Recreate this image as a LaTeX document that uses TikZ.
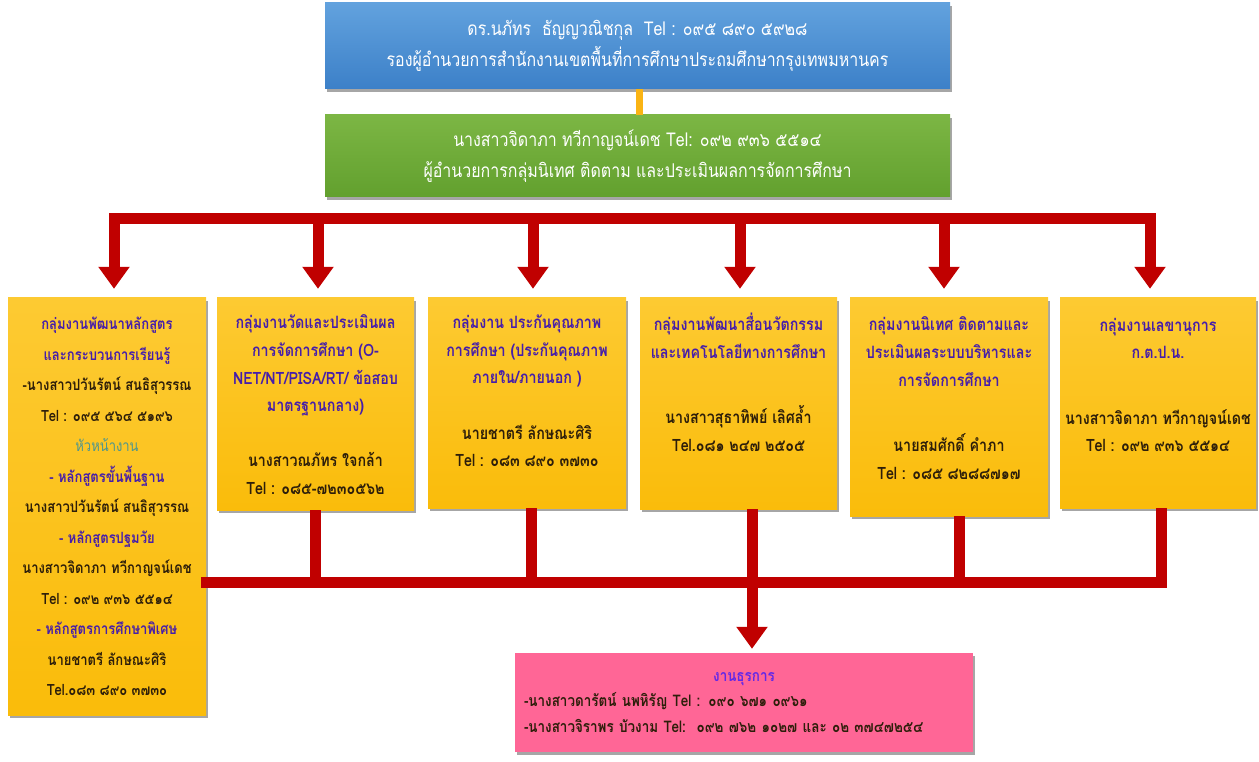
\documentclass[tikz,border=0pt]{standalone}
\usepackage{fontspec}
\setmainfont[Script=Thai,FakeStretch=0.84]{Loma}
\usetikzlibrary{arrows.meta,shadows}
\definecolor{redc}{RGB}{192,0,0}
\definecolor{ylw}{RGB}{250,188,10}
\definecolor{ylwtop}{RGB}{253,202,50}
\definecolor{bluetop}{RGB}{98,162,222}
\definecolor{bluebot}{RGB}{60,128,200}
\definecolor{greentop}{RGB}{124,182,68}
\definecolor{greenbot}{RGB}{98,160,46}
\definecolor{pinkc}{RGB}{255,102,150}
\definecolor{orangec}{RGB}{250,180,20}
\definecolor{hd}{RGB}{70,30,170}
\definecolor{nm}{RGB}{45,30,10}
\definecolor{tl}{RGB}{80,150,140}
\definecolor{hdp}{RGB}{100,40,230}
\begin{document}
\begin{tikzpicture}[x=1pt,y=-1pt,
  boxshadow/.style={drop shadow={shadow xshift=2pt,shadow yshift=-3pt,opacity=0.35,fill=black}},
  topbox/.style={boxshadow,draw=none,minimum width=625pt,minimum height=86pt,inner sep=0pt,
    text=white,align=center,font=\fontsize{19}{31}\selectfont},
  yellowbox/.style={boxshadow,draw=none,top color=ylwtop,bottom color=ylw,inner sep=0pt},
  boxtext/.style={inner sep=0pt,align=center,text=nm,font=\bfseries\fontsize{17}{27.6}\selectfont},
  redline/.style={draw=redc,line width=11pt},
  redarrow/.style={draw=redc,line width=11pt,-{Triangle[width=30pt,length=22pt]}},
]
\useasboundingbox (0,0) rectangle (1259,762);

\coordinate (busL) at (114,219);
\coordinate (busR) at (1150,219);
\coordinate (busB) at (206,582);
\coordinate (busBR) at (1161,582);

% top boxes
\node[topbox,top color=bluetop,bottom color=bluebot] (dir) at (637.5,46)
  {ดร.นภัทร\ \ ธัญญวณิชกุล\ \ Tel : ๐๙๕ ๘๙๐ ๕๙๒๘\\
   รองผู้อำนวยการสำนักงานเขตพื้นที่การศึกษาประถมศึกษากรุงเทพมหานคร};
\node[topbox,top color=greentop,bottom color=greenbot,minimum height=82pt] (head) at (637.5,156)
  {นางสาวจิดาภา ทวีกาญจน์เดช Tel: ๐๙๒ ๙๓๖ ๕๕๑๔\\
   ผู้อำนวยการกลุ่มนิเทศ ติดตาม และประเมินผลการจัดการศึกษา};
\draw[draw=orangec,line width=7pt] (dir.south -| 639,0) -- (head.north -| 639,0);

% yellow boxes
\node[yellowbox,minimum width=198pt,minimum height=417pt] (b1) at (107,506.5) {};
\node[yellowbox,minimum width=197pt,minimum height=212pt] (b2) at (315.5,404) {};
\node[yellowbox,minimum width=198pt,minimum height=210pt] (b3) at (527,403) {};
\node[yellowbox,minimum width=197pt,minimum height=211pt] (b4) at (738.5,403.5) {};
\node[yellowbox,minimum width=198pt,minimum height=218pt] (b5) at (949,407) {};
\node[yellowbox,minimum width=196pt,minimum height=210pt] (b6) at (1158,403) {};

% pink box
\node[boxshadow,draw=none,fill=pinkc,minimum width=458pt,minimum height=99pt,inner sep=0pt,
  text width=440pt,align=left,text=nm,font=\bfseries\fontsize{16}{25.5}\selectfont] (adm) at (744,702.5)
  {\makebox[\linewidth][c]{\textcolor{hdp}{งานธุรการ}}\\
   -นางสาวดารัตน์ นพหิรัญ Tel : ๐๙๐ ๖๗๑ ๐๙๖๑\\
   -นางสาวจิราพร บัวงาม Tel:\ \ ๐๙๒ ๗๖๒ ๑๐๒๗ และ ๐๒ ๓๗๔๗๒๕๔};

% red bus on top
\draw[redline,line cap=rect] (busL) -- (busR);
\foreach \xx/\bb in {114/b1,318/b2,533/b3,740/b4,944/b5,1150/b6}{
  \draw[redarrow,shorten >=9pt] (\xx,0 |- busL) -- (\xx,0 |- \bb.north);
}
% bottom bus
\foreach \xx/\bb in {315/b2,531/b3,752/b4,959/b5,1161/b6}{
  \draw[redline] (\xx,0 |- \bb.south) -- (\xx,0 |- busB);
}
\draw[redline,line cap=rect] (busB) -- (busBR);
\draw[redarrow,shorten >=4pt] (752,0 |- busB) -- (752,0 |- adm.north);

% texts in yellow boxes
\node[boxtext,font=\bfseries\fontsize{15.5}{30.5}\selectfont] (t1) at (b1.center)
  {\textcolor{hd}{กลุ่มงานพัฒนาหลักสูตร}\\
   \textcolor{hd}{และกระบวนการเรียนรู้}\\
   -นางสาวปวันรัตน์ สนธิสุวรรณ\\
   Tel : ๐๙๕ ๕๖๔ ๕๑๙๖\\
   \textcolor{tl}{\mdseries หัวหน้างาน}\\
   \textcolor{hd}{- หลักสูตรขั้นพื้นฐาน}\\
   นางสาวปวันรัตน์ สนธิสุวรรณ\\
   \textcolor{hd}{- หลักสูตรปฐมวัย}\\
   นางสาวจิดาภา ทวีกาญจน์เดช\\
   Tel : ๐๙๒ ๙๓๖ ๕๕๑๔\\
   \textcolor{hd}{- หลักสูตรการศึกษาพิเศษ}\\
   นายชาตรี ลักษณะศิริ\\
   Tel.๐๘๓ ๘๙๐ ๓๗๓๐};
\node[boxtext,anchor=north] (t2) at ([yshift=-17pt]b2.north)
  {\textcolor{hd}{กลุ่มงานวัดและประเมินผล}\\
   \textcolor{hd}{การจัดการศึกษา (O-}\\
   \textcolor{hd}{NET/NT/PISA/RT/ ข้อสอบ}\\
   \textcolor{hd}{มาตรฐานกลาง)}\\
   ~\\
   นางสาวณภัทร ใจกล้า\\
   Tel : ๐๘๕-๗๒๓๐๕๖๒};
\node[boxtext,anchor=north] (t3) at ([yshift=-17pt]b3.north)
  {\textcolor{hd}{กลุ่มงาน ประกันคุณภาพ}\\
   \textcolor{hd}{การศึกษา (ประกันคุณภาพ}\\
   \textcolor{hd}{ภายใน/ภายนอก )}\\
   ~\\
   นายชาตรี ลักษณะศิริ\\
   Tel : ๐๘๓ ๘๙๐ ๓๗๓๐};
\node[boxtext,anchor=north] (t4) at ([yshift=-15pt]b4.north)
  {\textcolor{hd}{กลุ่มงานพัฒนาสื่อนวัตกรรม}\\
   \textcolor{hd}{และเทคโนโลยีทางการศึกษา}\\[38pt]
   นางสาวสุธาทิพย์ เลิศล้ำ\\
   Tel.๐๘๑ ๒๔๗ ๒๕๐๕};
\node[boxtext,anchor=north] (t5) at ([yshift=-19pt]b5.north)
  {\textcolor{hd}{กลุ่มงานนิเทศ ติดตามและ}\\
   \textcolor{hd}{ประเมินผลระบบบริหารและ}\\
   \textcolor{hd}{การจัดการศึกษา}\\[38pt]
   นายสมศักดิ์ คำภา\\
   Tel : ๐๘๕ ๘๒๘๘๗๑๗};
\node[boxtext,anchor=north] (t6) at ([yshift=-20pt]b6.north)
  {\textcolor{hd}{กลุ่มงานเลขานุการ}\\
   \textcolor{hd}{ก.ต.ป.น.}\\[38pt]
   นางสาวจิดาภา ทวีกาญจน์เดช\\
   Tel : ๐๙๒ ๙๓๖ ๕๕๑๔};
\end{tikzpicture}
\end{document}
